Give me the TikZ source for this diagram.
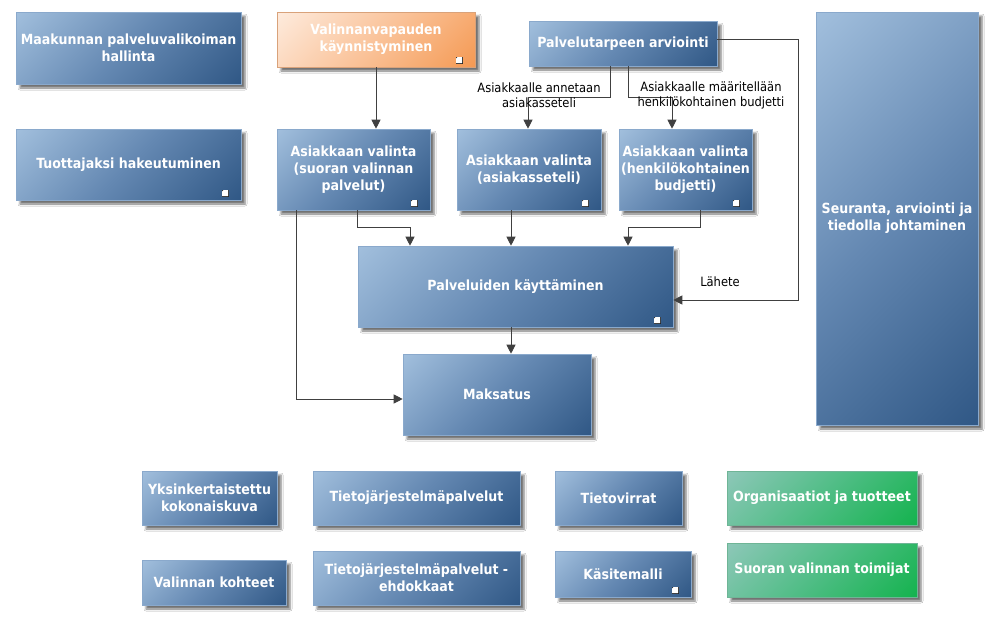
\documentclass[tikz,border=0pt]{standalone}
\usepackage{fontspec}
\setmainfont{DejaVu Sans Condensed}
\usetikzlibrary{arrows.meta,shadows.blur,calc}
\definecolor{bluelight}{HTML}{A6C3E0}
\definecolor{bluemid}{HTML}{6488B2}
\definecolor{bluedark}{HTML}{2C5482}
\definecolor{blueedge}{HTML}{8AA9CC}
\definecolor{orlight}{HTML}{FEEEE2}
\definecolor{ormid}{HTML}{FAC39A}
\definecolor{ordark}{HTML}{F4964E}
\definecolor{oredge}{HTML}{D9A27A}
\definecolor{grlight}{HTML}{92C8BC}
\definecolor{grmid}{HTML}{4FBD85}
\definecolor{grdark}{HTML}{10B24A}
\definecolor{gredge}{HTML}{6FB596}
\definecolor{connc}{HTML}{404040}
\pgfdeclareverticalshading{bluesh}{100bp}{color(0bp)=(bluedark); color(12bp)=(bluedark); color(50bp)=(bluemid); color(88bp)=(bluelight); color(100bp)=(bluelight)}
\pgfdeclareverticalshading{orsh}{100bp}{color(0bp)=(ordark); color(12bp)=(ordark); color(50bp)=(ormid); color(88bp)=(orlight); color(100bp)=(orlight)}
\pgfdeclareverticalshading{grsh}{100bp}{color(0bp)=(grdark); color(12bp)=(grdark); color(50bp)=(grmid); color(88bp)=(grlight); color(100bp)=(grlight)}
\tikzset{
  boxbase/.style={draw=blueedge, line width=0.6pt, inner sep=1pt, align=center,
    text=white, font=\fontsize{14}{17}\selectfont\bfseries,
    blur shadow={shadow xshift=4pt, shadow yshift=-4pt, shadow blur radius=2pt, shadow opacity=55}},
  box/.style={boxbase, shading=bluesh, shading angle=45},
  orbox/.style={boxbase, draw=oredge, shading=orsh, shading angle=45},
  grbox/.style={boxbase, draw=gredge, shading=grsh, shading angle=45},
  withicon/.style={path picture={
      \fill[black!85] ([xshift=-19pt,yshift=3pt]path picture bounding box.south east) rectangle ++(7pt,7pt);
      \fill[white] ([xshift=-19pt,yshift=4pt]path picture bounding box.south east) -- ++(0pt,4.5pt) -- ++(1.5pt,1.5pt) -- ++(4.5pt,0pt) -- ++(0pt,-6pt) -- cycle;}},
  conn/.style={draw=connc, line width=0.9pt},
  arr/.style={conn, -{Triangle[length=9pt,width=9pt]}},
  lbl/.style={font=\fontsize{12.8}{15}\selectfont, text=black, align=center, inner sep=0pt}
}
\begin{document}
\begin{tikzpicture}[x=1pt,y=-1pt]
\useasboundingbox[fill=white] (0,0) rectangle (996,624);
% boxes
\node[box, minimum width=225pt, minimum height=72pt] (mk1) at (128.5,48) {Maakunnan palveluvalikoiman\\hallinta};
\node[orbox, withicon, minimum width=198pt, minimum height=55pt] (vv) at (376,39.5) {Valinnanvapauden\\käynnistyminen};
\node[box, minimum width=188pt, minimum height=45pt] (pa) at (623,43.5) {Palvelutarpeen arviointi};
\node[box, minimum width=162pt, minimum height=413pt] (sr) at (897,218.5) {Seuranta, arviointi ja\\tiedolla johtaminen};
\node[box, withicon, minimum width=225pt, minimum height=71pt] (th) at (128.5,164.5) {Tuottajaksi hakeutuminen};
\node[box, withicon, minimum width=153pt, minimum height=81pt] (sv) at (353.5,169.5) {Asiakkaan valinta\\(suoran valinnan\\palvelut)};
\node[box, withicon, minimum width=144pt, minimum height=81pt] (as) at (529,169.5) {Asiakkaan valinta\\(asiakasseteli)};
\node[box, withicon, minimum width=133pt, minimum height=81pt] (hb) at (685.5,169.5) {Asiakkaan valinta\\(henkilökohtainen\\budjetti)};
\node[box, withicon, minimum width=315pt, minimum height=81pt] (pk) at (515.5,286.5) {Palveluiden käyttäminen};
\node[box, minimum width=188pt, minimum height=81pt] (ms) at (497,394.5) {Maksatus};
\node[box, minimum width=135pt, minimum height=54pt] (yk) at (209.5,498) {Yksinkertaistettu\\kokonaiskuva};
\node[box, minimum width=207pt, minimum height=54pt] (tj) at (416.5,498) {Tietojärjestelmäpalvelut};
\node[box, minimum width=127pt, minimum height=54pt] (tv) at (618.5,498) {Tietovirrat};
\node[grbox, minimum width=190pt, minimum height=54pt] (ot) at (822,498) {Organisaatiot ja tuotteet};
\node[box, minimum width=144pt, minimum height=45pt] (vk) at (214,582.5) {Valinnan kohteet};
\node[box, minimum width=207pt, minimum height=54pt] (te) at (416.5,578) {Tietojärjestelmäpalvelut -\\ehdokkaat};
\node[box, withicon, minimum width=136pt, minimum height=46pt] (km) at (623,574) {Käsitemalli};
\node[grbox, minimum width=190pt, minimum height=54pt] (sv2) at (822,570) {Suoran valinnan toimijat};
% junction coordinates
\coordinate (j1) at (610,97);
\coordinate (j1b) at (528,97);
\coordinate (j2) at (628,97);
\coordinate (j2b) at (672,97);
\coordinate (j3a) at (798,39);
\coordinate (j3b) at (798,300);
\coordinate (k1) at (357,227);
\coordinate (k2) at (410,227);
\coordinate (k3) at (511,227);
\coordinate (k4) at (700,227);
\coordinate (k5) at (628,227);
\coordinate (k6) at (296,399);
% connectors
\draw[arr] (vv.south) -- (vv.south |- sv.north);
\draw[arr] (pa.south -| j1) -- (j1) -- (j1b) -- (as.north -| j1b);
\draw[arr] (pa.south -| j2) -- (j2) -- (j2b) -- (hb.north -| j2b);
\draw[arr] (pa.east |- j3a) -- (j3a) -- (j3b) -- (pk.east |- j3b);
\draw[arr] (sv.south -| k1) -- (k1) -- (k2) -- (pk.north -| k2);
\draw[arr] (as.south -| k3) -- (pk.north -| k3);
\draw[arr] (hb.south -| k4) -- (k4) -- (k5) -- (pk.north -| k5);
\draw[arr] (sv.south -| k6) -- (k6) -- (ms.west |- k6);
\draw[arr] (pk.south -| k3) -- (ms.north -| k3);
% labels
\node[lbl] (l1) at (539,95) {Asiakkaalle annetaan\\asiakasseteli};
\node[lbl] (l2) at (711,95) {Asiakkaalle määritellään\\henkilökohtainen budjetti};
\node[lbl] (l3) at (720,282) {Lähete};
\end{tikzpicture}
\end{document}
